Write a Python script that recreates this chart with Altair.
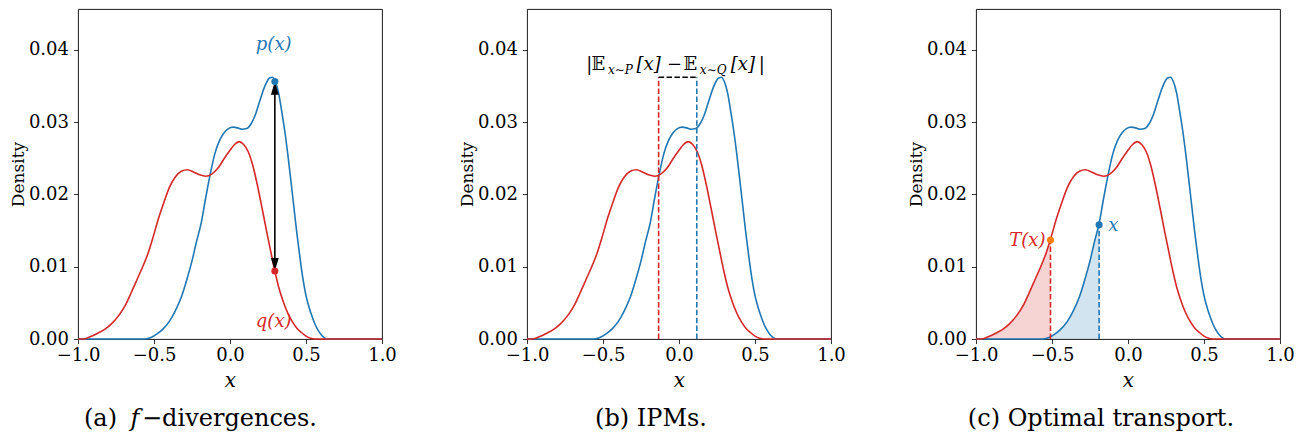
import altair as alt
import pandas as pd

# ---------------- data ----------------
# q(x) (red density)
Q_X = [-1.0, -0.96, -0.92, -0.87, -0.82, -0.78, -0.73, -0.69, -0.65, -0.61, -0.57, -0.54,
       -0.51, -0.47, -0.43, -0.40, -0.36, -0.32, -0.28, -0.24, -0.20, -0.16, -0.12, -0.08,
       -0.04, 0.0, 0.03, 0.06, 0.09, 0.12, 0.15, 0.18, 0.21, 0.24, 0.27, 0.295, 0.32, 0.35,
       0.38, 0.41, 0.44, 0.47, 0.50, 0.53, 0.56, 1.0]
Q_Y = [0, 0, 0.0003, 0.0008, 0.0014, 0.0021, 0.0033, 0.0046, 0.0064, 0.0083, 0.0102, 0.0118,
       0.0138, 0.0167, 0.0192, 0.0209, 0.0224, 0.0232, 0.0234, 0.0231, 0.0227, 0.0225, 0.0228,
       0.0236, 0.0249, 0.0261, 0.0269, 0.0273, 0.0269, 0.0259, 0.0240, 0.0213, 0.0182, 0.0150,
       0.0119, 0.0094, 0.0072, 0.0052, 0.0036, 0.0024, 0.0015, 0.0009, 0.0004, 0.0001, 0, 0]

# p(x) (blue density)
P_X = [-1.0, -0.56, -0.52, -0.48, -0.44, -0.40, -0.36, -0.32, -0.28, -0.25, -0.22, -0.19,
       -0.16, -0.13, -0.10, -0.07, -0.04, -0.01, 0.02, 0.05, 0.08, 0.11, 0.14, 0.17, 0.20,
       0.23, 0.26, 0.28, 0.30, 0.32, 0.34, 0.36, 0.38, 0.40, 0.42, 0.44, 0.46, 0.48, 0.50,
       0.52, 0.54, 0.56, 0.58, 0.60, 0.62, 0.64, 1.0]
P_Y = [0, 0, 0.0002, 0.0007, 0.0014, 0.0024, 0.0039, 0.0058, 0.0085, 0.0108, 0.0135, 0.0160,
       0.0195, 0.0228, 0.0256, 0.0274, 0.0285, 0.0291, 0.0293, 0.0292, 0.0290, 0.0291, 0.0298,
       0.0312, 0.0332, 0.0350, 0.0361, 0.0362, 0.0355, 0.0340, 0.0315, 0.0288, 0.0256, 0.0220,
       0.0183, 0.0146, 0.0113, 0.0083, 0.0060, 0.0044, 0.0031, 0.0020, 0.0012, 0.0006, 0.0002,
       0, 0]

X_TICKS = [-1.0, -0.5, 0.0, 0.5, 1.0]
Y_TICKS = [0.0, 0.01, 0.02, 0.03, 0.04]

# (a) f-divergence: points compared at one x
FDIV_X = 0.295
FDIV_P = 0.0356
FDIV_Q = 0.0094

# (b) IPM: means of Q (red) and P (blue), height of the bracket
MEAN_Q = -0.134
MEAN_P = 0.117
IPM_TOP = 0.0362

# (c) OT: point x on p and its image T(x) on q
OT_X = -0.19
OT_PX = 0.0158
OT_T = -0.51
OT_QT = 0.0137

# ---------------- styling ----------------
FONT = "DejaVu Serif"
BLUE, RED, ORANGE = "#1f77b4", "#d62728", "#ff7f0e"
W, H = 304, 330
LW = 1.6
DASH = [5.5, 2.4]

xs = alt.Scale(domain=[-1, 1], nice=False, zero=False)
ys = alt.Scale(domain=[0, 0.04564], nice=False, zero=False)

xaxis = alt.Axis(title="x", values=X_TICKS, format=".1f", grid=False, domain=False,
                 tickSize=4.5, tickColor="black", tickWidth=0.8,
                 labelFont=FONT, labelFontSize=18, labelColor="black", labelPadding=3,
                 labelFlush=False, labelOverlap=False, labelBound=False,
                 titleFont=FONT, titleFontSize=20, titleFontStyle="italic",
                 titleFontWeight="normal", titleColor="black",
                 titleY=41, titleBaseline="middle")
yaxis = alt.Axis(title="Density", values=Y_TICKS, format=".2f", grid=False, domain=False,
                 tickSize=4.5, tickColor="black", tickWidth=0.8,
                 labelFont=FONT, labelFontSize=18, labelColor="black", labelPadding=5,
                 labelFlush=False, labelOverlap=False, labelBound=False,
                 titleFont=FONT, titleFontSize=17, titleFontWeight="normal",
                 titleColor="black", titleX=-60, titleY=H / 2,
                 titleAlign="center", titleBaseline="middle")

p_df = pd.DataFrame({"x": P_X, "y": P_Y})
q_df = pd.DataFrame({"x": Q_X, "y": Q_Y})


def X(f="x"):
    return alt.X(f"{f}:Q", scale=xs, axis=xaxis)


def Y(f="y"):
    return alt.Y(f"{f}:Q", scale=ys, axis=yaxis)


def curve(df, color):
    return alt.Chart(df).mark_line(color=color, strokeWidth=LW, interpolate="monotone").encode(
        x=X(), y=Y())


def shade(df, color):
    return alt.Chart(df).mark_area(color=color, opacity=0.2, interpolate="monotone").encode(
        x=X(), y=Y())


def vrule(x, y0, y1, color, **kw):
    df = pd.DataFrame({"x": [x], "y": [y0], "y2": [y1]})
    return alt.Chart(df).mark_rule(color=color, strokeWidth=LW, **kw).encode(
        x=X(), y=Y(), y2="y2:Q")


def hrule(x0, x1, y, color, **kw):
    df = pd.DataFrame({"x": [x0], "x2": [x1], "y": [y]})
    return alt.Chart(df).mark_rule(color=color, strokeWidth=LW, **kw).encode(
        x=X(), x2="x2:Q", y=Y())


def dot(x, y, color, size=50):
    df = pd.DataFrame({"x": [x], "y": [y]})
    return alt.Chart(df).mark_circle(color=color, size=size, opacity=1).encode(x=X(), y=Y())


def head(x, y, shape):
    df = pd.DataFrame({"x": [x], "y": [y]})
    return alt.Chart(df).mark_point(shape=shape, filled=True, size=170, color="black",
                                    opacity=1, strokeWidth=0).encode(x=X(), y=Y())


def dtext(s, x, y, color, size=18, italic=True, align="center", baseline="middle"):
    df = pd.DataFrame({"x": [x], "y": [y], "t": [s]})
    return alt.Chart(df).mark_text(font=FONT, fontSize=size, color=color, align=align,
                                   baseline=baseline,
                                   fontStyle="italic" if italic else "normal").encode(
        x=X(), y=Y(), text="t:N")


def ptext(s, px, py, size=24, italic=False, align="left", baseline="alphabetic"):
    df = pd.DataFrame({"t": [s]})
    return alt.Chart(df).mark_text(font=FONT, fontSize=size, color="black", align=align,
                                   baseline=baseline,
                                   fontStyle="italic" if italic else "normal").encode(
        x=alt.value(px), y=alt.value(py), text="t:N")


CAP_Y = 417

# ---------------- (a) f-divergences ----------------
pa = alt.layer(
    curve(p_df, BLUE),
    curve(q_df, RED),
    vrule(FDIV_X, FDIV_Q, FDIV_P, "black"),
    head(FDIV_X, FDIV_P, "M0,0L-0.6,2L0.6,2Z"),
    head(FDIV_X, FDIV_Q, "M0,0L-0.6,-2L0.6,-2Z"),
    dot(FDIV_X, FDIV_P, BLUE),
    dot(FDIV_X, FDIV_Q, RED),
    dtext("p(x)", 0.2875, 0.0406, BLUE),
    dtext("q(x)", 0.2875, 0.0023, RED),
    ptext("(a)", 6, CAP_Y),
    ptext("f", 57, CAP_Y, italic=True, align="center"),
    ptext("\u2212divergences.", 64, CAP_Y),
).properties(width=W, height=H)

# ---------------- (b) IPMs ----------------
LBL_Y = 0.0372
SUB_Y = 0.0366
pb = alt.layer(
    curve(p_df, BLUE),
    curve(q_df, RED),
    vrule(MEAN_Q, 0, IPM_TOP, RED, strokeDash=DASH),
    vrule(MEAN_P, 0, IPM_TOP, BLUE, strokeDash=DASH),
    hrule(MEAN_Q, MEAN_P, IPM_TOP, "black", strokeDash=DASH),
    dtext("|", -0.590, LBL_Y, "black", italic=False, baseline="alphabetic"),
    dtext("\U0001D53C", -0.530, LBL_Y, "black", italic=False, baseline="alphabetic"),
    dtext("x\u223CP", -0.385, SUB_Y, "black", size=12, baseline="alphabetic"),
    dtext("[x]", -0.200, LBL_Y, "black", baseline="alphabetic"),
    dtext("\u2212", -0.030, LBL_Y, "black", italic=False, baseline="alphabetic"),
    dtext("\U0001D53C", 0.075, LBL_Y, "black", italic=False, baseline="alphabetic"),
    dtext("x\u223CQ", 0.225, SUB_Y, "black", size=12, baseline="alphabetic"),
    dtext("[x]", 0.420, LBL_Y, "black", baseline="alphabetic"),
    dtext("|", 0.545, LBL_Y, "black", italic=False, baseline="alphabetic"),
    ptext("(b) IPMs.", 124, CAP_Y, align="center"),
).properties(width=W, height=H)

# ---------------- (c) Optimal transport ----------------
q_shade = q_df[q_df["x"] <= OT_T]
p_shade = p_df[p_df["x"] <= OT_X]
pc = alt.layer(
    shade(q_shade, RED),
    shade(p_shade, BLUE),
    curve(p_df, BLUE),
    curve(q_df, RED),
    vrule(OT_T, 0, OT_QT, RED, strokeDash=DASH),
    vrule(OT_X, 0, OT_PX, BLUE, strokeDash=DASH),
    dot(OT_T, OT_QT, ORANGE),
    dot(OT_X, OT_PX, BLUE),
    dtext("T(x)", -0.543, 0.01357, RED, align="right"),
    dtext("x", -0.13, 0.01565, BLUE, align="left"),
    ptext("(c) Optimal transport.", 125, CAP_Y, align="center"),
).properties(width=W, height=H)

chart = alt.hconcat(pa, pb, pc, spacing=145, bounds="flush").properties(
    padding={"left": 0, "top": 0, "right": 0, "bottom": 0}
).configure_view(stroke="black", strokeWidth=0.9)

chart.save("out.html", embed_options={"renderer": "svg", "actions": False})
